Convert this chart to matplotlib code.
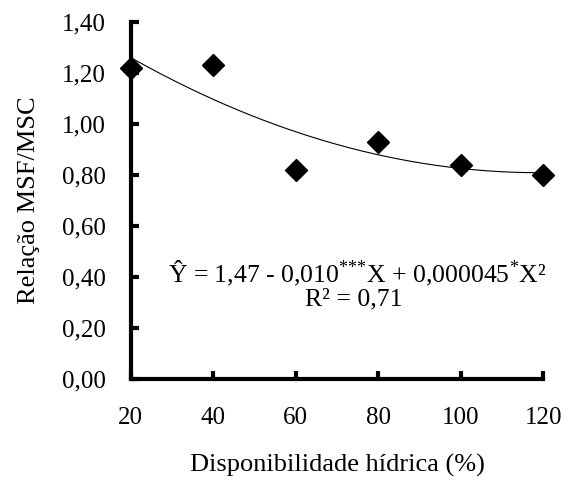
import numpy as np
import matplotlib.pyplot as plt

plt.rcParams['font.family'] = ['Liberation Serif', 'DejaVu Serif']
plt.rcParams['mathtext.fontset'] = 'custom'
plt.rcParams['mathtext.rm'] = 'Liberation Serif'
plt.rcParams['mathtext.it'] = 'Liberation Serif'
serif = ['Liberation Serif', 'DejaVu Serif']

disponibilidade = [20, 40, 60, 80, 100, 120]
relacao = [1.22, 1.23, 0.82, 0.93, 0.84, 0.80]
yticks = [0.0, 0.2, 0.4, 0.6, 0.8, 1.0, 1.2, 1.4]

fig = plt.figure(figsize=(5.64, 4.79), dpi=100)
ax = fig.add_axes([0.232, 0.209, 0.731, 0.745])

# quadratic regression curve fitted to the points
coef = np.polyfit(disponibilidade, relacao, 2)
xs = np.linspace(20, 120, 200)
ax.plot(xs, np.polyval(coef, xs), color='black', lw=0.8, clip_on=False)
ax.plot(disponibilidade, relacao, 'D', color='black', ms=11, clip_on=False, zorder=5)

ax.set_xlim(20, 120)
ax.set_ylim(0, 1.4)
ax.set_xticks(disponibilidade)
ax.set_yticks(yticks)
ax.set_yticklabels([f"{v:.2f}".replace('.', ',') for v in yticks])
ax.tick_params(direction='in', length=6, width=3, labelsize=18)
ax.tick_params(axis='x', pad=20)
ax.tick_params(axis='y', pad=18)
for s in ['top', 'right']:
    ax.spines[s].set_visible(False)
for s in ['left', 'bottom']:
    ax.spines[s].set_linewidth(3)

ax.set_xlabel('Disponibilidade hídrica (%)', fontsize=19, labelpad=18, family=serif)
ax.set_ylabel('Relação MSF/MSC', fontsize=19, labelpad=16, family=serif)

ax.text(75, 0.415, r'Ŷ = 1,47 - 0,010$^{{*}{*}{*}}$X + 0,000045$^{*}$X²',
        fontsize=18.5, ha='center', va='center', family=serif)
ax.text(74, 0.31, 'R² = 0,71', fontsize=18.5, ha='center', va='center', family=serif)

fig.savefig('out.png', dpi=100)
